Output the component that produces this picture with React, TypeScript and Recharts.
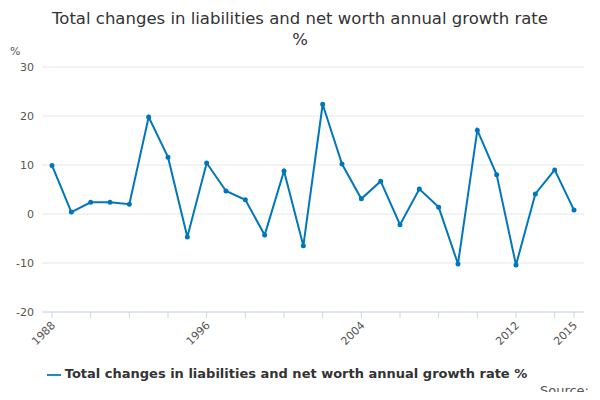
import React from "react";
import { LineChart, Line, XAxis, YAxis, CartesianGrid, Legend } from "recharts";

const years = [1988,1989,1990,1991,1992,1993,1994,1995,1996,1997,1998,1999,2000,2001,2002,2003,2004,2005,2006,2007,2008,2009,2010,2011,2012,2013,2014,2015];
const values = [9.9,0.4,2.4,2.4,2,19.8,11.6,-4.7,10.4,4.7,2.9,-4.3,8.8,-6.5,22.4,10.2,3.1,6.7,-2.2,5.1,1.4,-10.2,17.1,8,-10.4,4.1,9,0.8];
const tickYears = [1988,1990,1992,1994,1996,1998,2000,2002,2004,2006,2008,2010,2012,2014,2015];
const labelYears = [1988,1996,2004,2012,2015];
const yTicks = [-20,-10,0,10,20,30];
const name = "Total changes in liabilities and net worth annual growth rate %";

const data = years.map((y, i) => ({ year: y, v: values[i] }));
const font = "'DejaVu Sans', sans-serif";

const XTick = (p: any) => {
  const { x, y, payload } = p;
  if (!labelYears.includes(payload.value)) return null;
  return (
    <text x={x + 4} y={y + 6} transform={`rotate(-45 ${x + 4} ${y + 6})`} textAnchor="end" fontSize={11} fill="#555" fontFamily={font}>
      {payload.value}
    </text>
  );
};

export default function App() {
  return (
    <div style={{ width: 600, height: 400, position: "relative", fontFamily: font, margin: -8 }}>
      <div style={{ position: "absolute", top: 8, width: 600, textAlign: "center", fontSize: 16.5, color: "#333", lineHeight: "21px" }}>
        Total changes in liabilities and net worth annual growth rate<br />%
      </div>
      <div style={{ position: "absolute", left: 10, top: 45, fontSize: 11, color: "#555" }}>%</div>
      <LineChart width={600} height={400} data={data} margin={{ top: 67, right: 16, bottom: 4, left: 0 }}>
        <CartesianGrid horizontal vertical={false} stroke="#e6e6e6" />
        <XAxis dataKey="year" type="number" domain={[1988, 2015]} ticks={tickYears} interval={0} tick={<XTick />} tickLine={{ stroke: "#ccd6eb" }} axisLine={{ stroke: "#ccd6eb" }} height={54} padding={{ left: 10, right: 10 }} />
        <YAxis domain={[-20, 30]} ticks={yTicks} width={42} tick={{ fontSize: 11, fill: "#555", fontFamily: font }} axisLine={false} tickLine={false} />
        <Legend verticalAlign="bottom" height={30} iconType="plainline" wrapperStyle={{ fontSize: 13, fontWeight: "bold", color: "#333", fontFamily: font }} formatter={(v: any) => <span style={{ color: "#333" }}>{v}</span>} />
        <Line type="linear" dataKey="v" name={name} stroke="#0077bb" strokeWidth={2} dot={{ r: 1.5, fill: "#0077bb", stroke: "#0077bb" }} isAnimationActive={false} />
      </LineChart>
      <div style={{ position: "absolute", right: 11, top: 383, fontSize: 13, color: "#555" }}>Source:</div>
    </div>
  );
}
